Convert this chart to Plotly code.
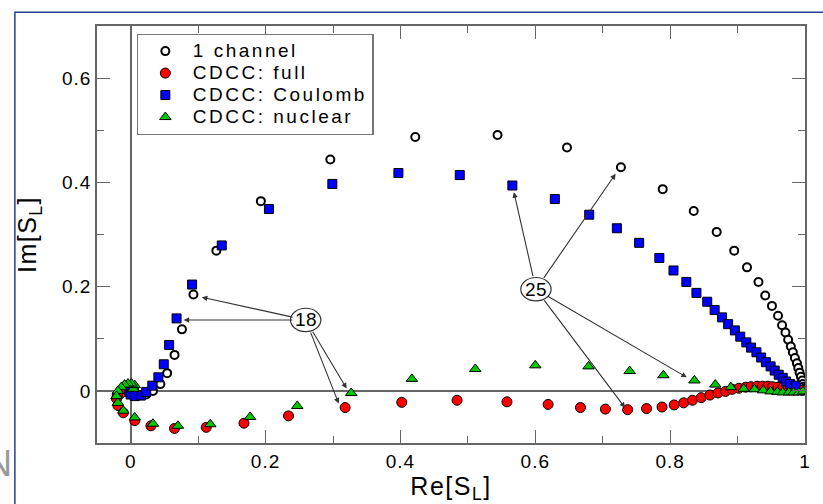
import plotly.graph_objects as go

# ---- data ----
one_x = [0.000, 0.002, 0.004, 0.005, 0.004, 0.001, -0.002, -0.003, 0.000, 0.005, 0.013, 0.023, 0.033, 0.044,
         0.054, 0.065, 0.076, 0.093, 0.127, 0.193, 0.296, 0.422, 0.544, 0.647, 0.727, 0.789, 0.835,
         0.869, 0.895, 0.914, 0.931, 0.941, 0.951, 0.960, 0.966, 0.971, 0.975, 0.979, 0.982, 0.985,
         0.988, 0.990, 0.992, 0.994, 0.996, 0.997, 0.998, 0.999]
one_y = [0.000, 0.002, 0.003, 0.001, -0.002, -0.004, -0.003, 0.001, 0.004, -0.005, -0.008, -0.007, 0.000, 0.013,
         0.034, 0.069, 0.118, 0.185, 0.269, 0.364, 0.444, 0.487, 0.491, 0.467, 0.429, 0.387, 0.345,
         0.305, 0.269, 0.237, 0.209, 0.183, 0.163, 0.144, 0.126, 0.112, 0.098, 0.085, 0.074, 0.063,
         0.053, 0.044, 0.035, 0.027, 0.020, 0.013, 0.008, 0.004]

full_x = [0.002, -0.006, -0.014, -0.020, -0.021, -0.019, -0.011, 0.006, 0.030, 0.065, 0.112, 0.168, 0.234,
          0.318, 0.402, 0.484, 0.558, 0.619, 0.667, 0.704, 0.737, 0.765, 0.788, 0.806,
          0.820, 0.833, 0.846, 0.859, 0.871, 0.882, 0.892, 0.902, 0.912, 0.920, 0.929, 0.937,
          0.945, 0.952, 0.960, 0.967, 0.974, 0.982, 0.989, 0.996]
full_y = [-0.004, -0.002, -0.004, -0.008, -0.015, -0.028, -0.042, -0.057, -0.067, -0.072, -0.070, -0.062, -0.048,
          -0.032, -0.022, -0.018, -0.021, -0.026, -0.032, -0.035, -0.036, -0.034, -0.031, -0.027,
          -0.023, -0.018, -0.013, -0.008, -0.004, -0.001, 0.003, 0.005, 0.007, 0.008, 0.009, 0.009,
          0.009, 0.008, 0.007, 0.006, 0.004, 0.003, 0.002, 0.001]

coul_x = [0.004, 0.001, -0.002, 0.000, 0.006, 0.015, 0.023, 0.032, 0.041, 0.049, 0.057, 0.068, 0.091, 0.135,
          0.205, 0.299, 0.397, 0.488, 0.566, 0.629, 0.680, 0.721, 0.754, 0.784, 0.805, 0.824,
          0.839, 0.855, 0.866, 0.877, 0.886, 0.896, 0.904, 0.913, 0.920, 0.928, 0.935, 0.942,
          0.949, 0.955, 0.961, 0.967, 0.972, 0.978, 0.986]
coul_y = [0.002, 0.003, -0.002, -0.007, -0.010, -0.009, -0.002, 0.010, 0.026, 0.051, 0.088, 0.139, 0.204, 0.279,
          0.349, 0.397, 0.418, 0.414, 0.394, 0.368, 0.338, 0.312, 0.284, 0.255, 0.231, 0.209,
          0.188, 0.171, 0.155, 0.141, 0.128, 0.116, 0.104, 0.093, 0.083, 0.074, 0.064, 0.055,
          0.047, 0.039, 0.031, 0.025, 0.018, 0.013, 0.010]

nuc_x = [0.004, 0.006, 0.001, -0.004, -0.009, -0.014, -0.019, -0.021, -0.019, -0.011, 0.006, 0.033, 0.070,
         0.118, 0.177, 0.247, 0.327, 0.417, 0.511, 0.600, 0.679, 0.740, 0.790, 0.836,
         0.867, 0.890, 0.909, 0.925, 0.938, 0.949, 0.959, 0.967, 0.976, 0.983, 0.991, 0.997]
nuc_y = [0.004, 0.011, 0.014, 0.014, 0.012, 0.007, 0.000, -0.010, -0.023, -0.038, -0.051, -0.063, -0.067,
         -0.064, -0.050, -0.029, -0.004, 0.023, 0.042, 0.049, 0.047, 0.038, 0.030, 0.020,
         0.012, 0.007, 0.004, 0.003, 0.001, -0.001, -0.002, -0.003, -0.003, -0.003, -0.003, -0.001]

series_names = ["1 channel", "CDCC: full", "CDCC: Coulomb", "CDCC: nuclear"]

x_tickvals = [0, 0.2, 0.4, 0.6, 0.8, 1]
x_ticklabels = ["0", "0.2", "0.4", "0.6", "0.8", "1"]
y_tickvals = [0, 0.2, 0.4, 0.6]
y_ticklabels = ["0", "0.2", "0.4", "0.6"]

# labels: (text, centre x, centre y, list of arrow targets)
label_text = ["18", "25"]
label_cx = [0.2595, 0.601]
label_cy = [0.136, 0.195]
arrow_tx = [[0.104, 0.077, 0.309, 0.321], [0.568, 0.720, 0.734, 0.826]]
arrow_ty = [[0.180, 0.136, -0.026, 0.003], [0.383, 0.418, -0.034, 0.025]]

# ---- figure ----
FONT = "Liberation Sans"
def wide(s, size=None, ls=1.5):
    st = "letter-spacing:%spx" % ls
    if size:
        st += ";font-size:%dpx" % size
    return '<span style="%s">%s</span>' % (st, s)

fig = go.Figure()
fig.add_trace(go.Scatter(x=one_x, y=one_y, mode="markers", name=wide(series_names[0], 19, 2.5),
                         marker=dict(symbol="circle", size=8, color="white",
                                     line=dict(color="black", width=2))))
fig.add_trace(go.Scatter(x=full_x, y=full_y, mode="markers", name=wide(series_names[1], 19, 2.5),
                         marker=dict(symbol="circle", size=10, color="#ff0000",
                                     line=dict(color="black", width=1))))
fig.add_trace(go.Scatter(x=coul_x, y=coul_y, mode="markers", name=wide(series_names[2], 19, 2.5),
                         marker=dict(symbol="square", size=9, color="#0000ff",
                                     line=dict(color="black", width=1))))
fig.add_trace(go.Scatter(x=nuc_x, y=nuc_y, mode="markers", name=wide(series_names[3], 19, 2.5),
                         marker=dict(symbol="triangle-up", size=10, color="#00c800",
                                     line=dict(color="black", width=1))))

annotations = []
shapes = []
for t, cx, cy, txs, tys in zip(label_text, label_cx, label_cy, arrow_tx, arrow_ty):
    for tx, ty in zip(txs, tys):
        annotations.append(dict(x=tx, y=ty, xref="x", yref="y", ax=cx, ay=cy, axref="x", ayref="y",
                                text="", showarrow=True, arrowhead=2, arrowsize=1, arrowwidth=1.1,
                                arrowcolor="#333333", startstandoff=12, standoff=1))
    shapes.append(dict(type="circle", xref="x", yref="y", x0=cx - 0.0225, x1=cx + 0.0225,
                       y0=cy - 0.0225, y1=cy + 0.0225, fillcolor="white",
                       line=dict(color="#333333", width=1.2), layer="above"))
    annotations.append(dict(x=cx, y=cy, xref="x", yref="y", text=wide(t, None, 0.5), showarrow=False,
                            font=dict(size=19, color="black", family=FONT)))

# slide frame and cut-off letter
shapes.append(dict(type="rect", xref="paper", yref="paper", x0=-0.116, x1=1.05, y0=-0.3, y1=1.033,
                   line=dict(color="#24408e", width=1.5), fillcolor="rgba(0,0,0,0)", layer="below"))
annotations.append(dict(x=-0.117, y=-0.05, xref="paper", yref="paper", text="N", showarrow=False,
                        xanchor="right", yanchor="middle",
                        font=dict(size=36, color="#999999", family=FONT)))

axis_common = dict(showline=True, linecolor="#666666", linewidth=1.5, mirror="allticks",
                   ticks="inside", ticklen=13, tickwidth=1.3, tickcolor="#666666",
                   showgrid=False, zeroline=True, zerolinecolor="#666666", zerolinewidth=1.5,
                   tickfont=dict(size=19, color="black", family=FONT),
                   minor=dict(ticks="inside", ticklen=7, tickwidth=1.2, tickcolor="#666666",
                              showgrid=False, dtick=0.1, tick0=0))

fig.update_xaxes(range=[-0.05, 1.0], tickmode="array", tickvals=x_tickvals,
                 ticktext=[wide(s, None, 1) for s in x_ticklabels], **axis_common)
fig.update_xaxes(title=dict(text=wide("Re[S<sub>L</sub>]", None, 1.5),
                            font=dict(size=25, color="black", family=FONT), standoff=3))
fig.update_yaxes(range=[-0.1, 0.7], tickmode="array", tickvals=y_tickvals,
                 ticktext=[wide(s, None, 1) for s in y_ticklabels], **axis_common)
fig.update_yaxes(title=dict(text=wide("Im[S<sub>L</sub>]", None, 1.5),
                            font=dict(size=25, color="black", family=FONT), standoff=18))

fig.update_layout(
    width=823, height=504,
    margin=dict(l=97, r=15, t=26, b=59),
    paper_bgcolor="white", plot_bgcolor="white",
    font=dict(family=FONT, color="black"),
    showlegend=True,
    legend=dict(x=0.056, y=0.981, xanchor="left", yanchor="top",
                bgcolor="white", bordercolor="#777777", borderwidth=1.2,
                font=dict(size=14.6, color="black", family=FONT),
                itemwidth=45, entrywidth=240, tracegroupgap=0),
    annotations=annotations,
    shapes=shapes,
)

fig.write_html("out.html")
